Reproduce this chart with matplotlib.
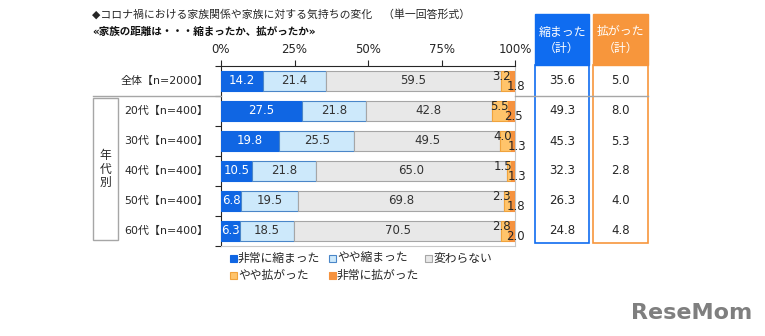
import matplotlib
matplotlib.use("Agg")
import matplotlib.pyplot as plt
from matplotlib.patches import Rectangle
from matplotlib.lines import Line2D

plt.rcParams['font.family'] = ['DejaVu Sans', 'Noto Sans CJK JP']

# ---- data ----
categories = ['全体【n=2000】', '20代【n=400】', '30代【n=400】',
              '40代【n=400】', '50代【n=400】', '60代【n=400】']
very_shrunk = [14.2, 27.5, 19.8, 10.5, 6.8, 6.3]
some_shrunk = [21.4, 21.8, 25.5, 21.8, 19.5, 18.5]
no_change = [59.5, 42.8, 49.5, 65.0, 69.8, 70.5]
some_grew = [3.2, 5.5, 4.0, 1.5, 2.3, 2.8]
very_grew = [1.8, 2.5, 1.3, 1.3, 1.8, 2.0]
shrunk_total = [35.6, 49.3, 45.3, 32.3, 26.3, 24.8]
grew_total = [5.0, 8.0, 5.3, 2.8, 4.0, 4.8]
series_names = ['非常に縮まった', 'やや縮まった', '変わらない', 'やや拡がった', '非常に拡がった']
x_ticks = [0, 25, 50, 75, 100]
x_tick_labels = ['0%', '25%', '50%', '75%', '100%']

# ---- styles ----
W, H = 765, 336
face = ['#1066E3', '#CDE9FB', '#E8E8E8', '#FFC46B', '#F5923E']
edge = ['#1066E3', '#4A86C8', '#A6A6A6', '#F0A33C', '#F5923E']
txt_col = ['white', '#333333', '#333333', '#333333', '#333333']
dark = '#262626'
blue_head = '#0F6CF0'
orange_head = '#F7963C'


def fx(px):
    return px / W


def fy(py):
    return 1 - py / H


fig = plt.figure(figsize=(W / 100, H / 100), dpi=100)
ax = fig.add_axes([fx(221), fy(246), fx(515) - fx(221), (246 - 66) / H])

series = [very_shrunk, some_shrunk, no_change, some_grew, very_grew]
n = len(categories)
ypos = list(range(n))
left = [0.0] * n
bar_h = 0.68
for k, vals in enumerate(series):
    ax.barh(ypos, vals, left=left, height=bar_h, color=face[k],
            edgecolor=edge[k], linewidth=0.8, zorder=3)
    for i, v in enumerate(vals):
        if k < 3:
            ax.text(left[i] + v / 2, i, f'{v:.1f}', ha='center', va='center',
                    fontsize=8.5, color=txt_col[k], zorder=4)
        elif k == 3:
            ax.text(left[i] + v + 0.3, i - 0.16, f'{v:.1f}', ha='right',
                    va='center', fontsize=8.5, color=dark, zorder=4)
        else:
            ax.text(left[i] - 1.2, i + 0.2, f'{v:.1f}', ha='left',
                    va='center', fontsize=8.5, color=dark, zorder=4,
                    clip_on=False)
    left = [a + b for a, b in zip(left, vals)]

ax.set_xlim(0, 100)
ax.set_ylim(n - 0.5, -0.5)
ax.xaxis.tick_top()
ax.set_xticks(x_ticks)
ax.set_xticklabels(x_tick_labels, fontsize=8.5, color=dark)
ax.tick_params(axis='x', length=4, pad=3, color=dark, width=0.8)
ax.set_yticks([i - 0.5 for i in range(n + 1)])
ax.set_yticklabels([])
ax.tick_params(axis='y', length=4, color=dark, width=0.8)
for s in ['top', 'left']:
    ax.spines[s].set_color(dark)
    ax.spines[s].set_linewidth(0.8)
for s in ['right', 'bottom']:
    ax.spines[s].set_color('#C8C8C8')
    ax.spines[s].set_linewidth(0.8)

# category labels
for i, c in enumerate(categories):
    ax.text(-4.3, i, c, ha='right', va='center', fontsize=7.9, color=dark,
            transform=ax.transData, clip_on=False)

# titles
fig.text(fx(92), fy(14), '◆コロナ禍における家族関係や家族に対する気持ちの変化　（単一回答形式）',
         fontsize=7.8, color=dark, va='center', ha='left')
fig.text(fx(92), fy(32), '«家族の距離は・・・縮まったか、拡がったか»',
         fontsize=7.6, color='#111111', fontweight='bold', va='center', ha='left')

# separator between total and age groups
for x0, x1 in [(93, 221), (515, 648)]:
    fig.add_artist(Line2D([fx(x0), fx(x1)], [fy(96), fy(96)],
                          color='#A6A6A6', linewidth=1.0))

# age group box
fig.add_artist(Rectangle((fx(93), fy(240)), fx(118) - fx(93), (240 - 98) / H,
                         facecolor='none', edgecolor='#A6A6A6', linewidth=1.0))
fig.text(fx(105.5), fy(169), '年\n代\n別', ha='center', va='center',
         fontsize=8.5, color=dark, linespacing=1.05)

# summary columns
row_y = [81 + 30 * i for i in range(n)]
for (x0, x1), head_col, head, vals in [
        ((535, 589), blue_head, '縮まった\n（計）', shrunk_total),
        ((593, 648), orange_head, '拡がった\n（計）', grew_total)]:
    fig.add_artist(Rectangle((fx(x0), fy(65)), fx(x1) - fx(x0), (65 - 14) / H,
                             facecolor=head_col, edgecolor=head_col, linewidth=1.0))
    fig.add_artist(Rectangle((fx(x0), fy(243)), fx(x1) - fx(x0), (243 - 65) / H,
                             facecolor='none', edgecolor=head_col, linewidth=1.2))
    fig.text(fx((x0 + x1) / 2), fy(40), head, ha='center', va='center',
             fontsize=8.6, color='white', linespacing=1.3)
    for yy, v in zip(row_y, vals):
        fig.text(fx((x0 + x1) / 2), fy(yy), f'{v:.1f}', ha='center', va='center',
                 fontsize=8.5, color=dark)

# legend
legend_pos = [(233, 258), (332, 258), (428, 258), (233, 275), (332, 275)]
for k, (lx, ly) in enumerate(legend_pos):
    fig.add_artist(Rectangle((fx(lx - 3.5), fy(ly + 3.5)), 7 / W, 7 / H,
                             facecolor=face[k], edgecolor=edge[k], linewidth=0.8))
    fig.text(fx(lx + 5), fy(ly), series_names[k], ha='left', va='center',
             fontsize=8.5, color=dark)

# site mark
fig.text(fx(752), fy(313), 'ReseMom', ha='right', va='center', fontsize=16,
         fontweight='bold', color='#7F7F7F')

fig.savefig('out.png', dpi=100)
